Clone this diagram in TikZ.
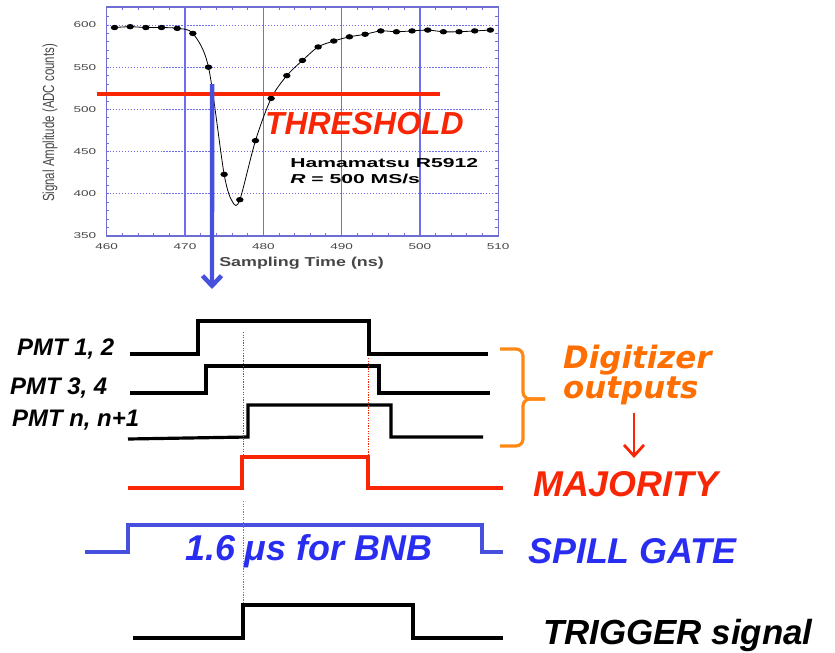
\documentclass[tikz,border=0pt]{standalone}
\usepackage{fontspec}
\setmainfont{Liberation Sans}
\newfontfamily\roundfont{DejaVu Sans}
\usetikzlibrary{arrows.meta, shapes.geometric}
\definecolor{threshred}{RGB}{248, 38, 5}
\definecolor{gateblue}{RGB}{70, 80, 220}
\definecolor{textblue}{RGB}{40, 45, 240}
\definecolor{frameblue}{RGB}{110, 110, 210}
\definecolor{gridblue}{RGB}{110, 110, 235}
\definecolor{digiorange}{RGB}{255, 110, 0}
\definecolor{braceorange}{RGB}{255, 135, 20}
\definecolor{markgreen}{RGB}{40, 170, 100}
\definecolor{ticktext}{RGB}{70, 70, 70}
\newcommand{\sigfont}[1]{\fontsize{#1}{#1}\selectfont\bfseries\itshape}

\begin{document}
\begin{tikzpicture}[x=1bp, y=-1bp,
    wave/.style={line width=3.2pt},
    sigtext/.style={anchor=base west, inner sep=0pt},
    ticklab/.style={inner sep=0pt, text=ticktext, font=\fontsize{8.5}{9}\selectfont, xscale=1.6},
    dot/.style={ellipse, fill=black, inner sep=0pt, minimum width=7.5bp, minimum height=5.4bp},
    edgemark/.style={line width=1.4pt, dash pattern=on 1.3pt off 1.3pt},
    tick/.style={gridblue, line width=0.9pt}]
    \useasboundingbox (0,0) rectangle (835,653);

    % Pulse plot
    \begin{scope}[shift={(106.7,236)}, x=7.83bp, y=0.844bp, shift={(-460,-350)}]
        \foreach \tm in {470,480,...,500}
            \draw[gridblue, line width=1.2pt] (\tm,350) -- (\tm,621.3);
        \foreach \v in {400,450,...,600}
            \draw[gridblue, line width=1pt, dash pattern=on 1.2pt off 1.8pt] (460,\v) -- (510,\v);
        \foreach \tm in {462,464,...,508} {
            \draw[tick] (\tm,350) -- (\tm,353.5);
            \draw[tick] (\tm,621.3) -- (\tm,617.8);
        }
        \foreach \v in {360,370,...,610} {
            \draw[tick] (460,\v) -- (460.35,\v);
            \draw[tick] (510,\v) -- (509.65,\v);
        }
        \draw[frameblue, line width=1.4pt] (460,350) rectangle (510,621.3);

        % Axis labels
        \foreach \v in {350,400,...,600}
            \node[ticklab, anchor=east] at (458.7,\v) {\v};
        \foreach \tm in {460,470,...,510}
            \node[ticklab] at (\tm,337) {\tm};
        \node[inner sep=0pt, text=ticktext, font=\fontsize{11.5}{12}\selectfont, rotate=90, yscale=1.4] (ylabel) at (452.76,483.9) {Signal Amplitude (ADC counts)};
        \node[inner sep=0pt, anchor=base west, text=ticktext, font=\fontsize{13}{13}\selectfont\bfseries, xscale=1.38] (xlabel) at (474.34,313.6) {Sampling Time (ns)};
        \node[inner sep=0pt, anchor=base west, font=\fontsize{13}{13}\selectfont\bfseries, xscale=1.63] (tube) at (483.41,431.4) {Hamamatsu R5912};
        \node[inner sep=0pt, anchor=base west, font=\fontsize{13}{13}\selectfont\bfseries, xscale=1.63] (rate) at (483.41,412.6) {{\itshape R} = 500 MS/s};

        % Samples
        \draw[line width=0.8pt] plot[smooth, tension=0.5] coordinates {(461,597) (463,598) (465,597) (467,597) (469,596) (471,590) (473,550) (475,423) (476.1,390) (477,393) (479,463) (481,513) (483,540) (485,558) (487,574) (489,581) (491,586) (493,589) (495,593) (497,592) (499,593) (501,594) (503,592) (505,592) (507,593) (509,594)};
        \foreach \tm/\v in {461/597, 463/598, 465/597, 467/597, 469/596, 471/590, 473/550, 475/423, 477/393, 479/463, 481/513, 483/540, 485/558, 487/574, 489/581, 491/586, 493/589, 495/593, 497/592, 499/593, 501/594, 503/592, 505/592, 507/593, 509/594}
            \node[dot] at (\tm,\v) {};

        % Threshold
        \draw[threshred, line width=4pt] (458.7,518) -- (502.6,518);
        \coordinate (cross) at (473.45,530);
    \end{scope}
    \node[sigtext, text=threshred, font=\sigfont{32}] (thresh) at (265,135) {THRESHOLD};

    % Drop to the discriminators
    \coordinate (drop) at (212,289);
    \draw[gateblue, line width=4.5pt, -{Straight Barb[length=10bp, width=19bp]}] (cross) -- (drop);

    % PMT outputs
    \node[sigtext, font=\sigfont{24}] (pmt12) at (17,355) {PMT 1, 2};
    \node[sigtext, font=\sigfont{24}] (pmt34) at (10,394) {PMT 3, 4};
    \node[sigtext, font=\sigfont{24}] (pmtn) at (12,426) {PMT n, n+1};
    \draw[wave] (130,354) -| (198,321) -| (369,354) -- (488,354);
    \draw[wave] (130,393) -| (206,366) -| (379,393) -- (490,393);
    \draw[wave] (128,439) -- (248,437) |- (391,405) |- (483,437);

    % Coincidence edges
    \draw[edgemark, threshred] (243.3,332) -- (243.3,457);
    \draw[edgemark, threshred] (368.3,358) -- (368.3,457);

    % Majority
    \draw[wave, threshred, line width=3.6pt] (128,488) -| (242,457) -| (368,488) -- (503,488);
    \node[sigtext, text=threshred, font=\sigfont{36}] (maj) at (533,496.7) {MAJORITY};

    % Digitizer brace
    \draw[braceorange, line width=3.2pt, rounded corners=7bp] (500,349) -- (523,349) -- (523,399) -- (545,399);
    \draw[braceorange, line width=3.2pt, rounded corners=7bp] (545,399) -- (523,399) -- (523,446) -- (500,446);
    \node[anchor=north west, inner sep=0pt, align=left, text=digiorange, font=\roundfont\fontsize{31}{28}\selectfont\bfseries\itshape] (digi) at (563,345) {Digitizer\\outputs};
    \coordinate (arrx) at (634,0);
    \draw[threshred, line width=2.8pt, -{Straight Barb[length=11bp, width=20bp]}] (digi.south -| arrx) ++(0,8) -- (634,458);

    % Spill gate
    \draw[wave, gateblue, line width=3.8pt] (85,552) -| (128,525) -| (482,552) -- (503,552);
    \node[sigtext, text=textblue, font=\sigfont{36}] (bnb) at (185,560) {1.6 μs for BNB};
    \node[sigtext, text=textblue, font=\sigfont{36}] (spill) at (528,563.3) {SPILL GATE};
    \draw[edgemark, markgreen] (243.3,501) -- (243.3,605);

    % Trigger
    \draw[wave, line width=3.5pt] (133,638) -| (243,605) -| (413,638) -- (503,638);
    \node[sigtext, font=\sigfont{35}] (trig) at (543,644.5) {TRIGGER signal};
\end{tikzpicture}
\end{document}
